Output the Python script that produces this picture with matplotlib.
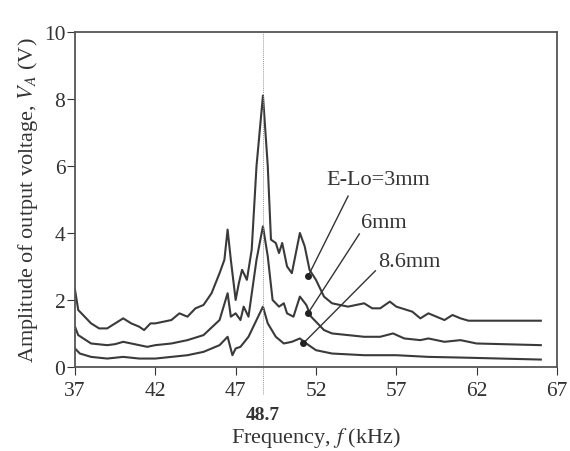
import matplotlib
matplotlib.use("Agg")
import matplotlib.pyplot as plt

plt.rcParams["font.family"] = ["Liberation Serif", "DejaVu Serif"]
plt.rcParams["mathtext.fontset"] = "stix"

# frequency (kHz) / amplitude (V)
f_3mm = [37.0, 37.2, 38.0, 38.5, 39.0, 39.5, 40.0, 40.5, 41.0, 41.3, 41.7, 42.0,
         43.0, 43.5, 44.0, 44.5, 45.0, 45.5, 46.0, 46.3, 46.5, 46.7, 47.0, 47.2,
         47.4, 47.7, 48.0, 48.3, 48.7, 49.0, 49.2, 49.5, 49.7, 49.9, 50.2, 50.5,
         51.0, 51.3, 51.6, 52.0, 52.5, 53.0, 54.0, 55.0, 55.5, 56.0, 56.6, 57.0,
         58.0, 58.5, 59.0, 59.5, 60.0, 60.5, 61.0, 61.5, 66.0]
v_3mm = [2.3, 1.7, 1.3, 1.15, 1.15, 1.3, 1.45, 1.3, 1.2, 1.1, 1.3, 1.3,
         1.4, 1.6, 1.5, 1.75, 1.85, 2.2, 2.8, 3.2, 4.1, 3.2, 2.0, 2.5,
         2.9, 2.6, 3.5, 6.0, 8.1, 6.0, 3.8, 3.7, 3.4, 3.7, 3.0, 2.8,
         4.0, 3.6, 2.9, 2.6, 2.1, 1.9, 1.8, 1.9, 1.75, 1.75, 1.95, 1.8,
         1.65, 1.45, 1.6, 1.5, 1.4, 1.55, 1.45, 1.38, 1.38]

f_6mm = [37.0, 37.2, 38.0, 39.0, 39.5, 40.0, 41.0, 41.5, 42.0, 43.0, 44.0, 45.0,
         46.0, 46.5, 46.7, 47.0, 47.3, 47.5, 47.8, 48.3, 48.7, 49.0, 49.3, 49.7,
         50.0, 50.2, 50.6, 51.0, 51.4, 51.7, 52.5, 53.0, 54.0, 55.0, 56.0, 56.8,
         57.5, 58.5, 59.0, 60.0, 61.0, 62.0, 66.0]
v_6mm = [1.2, 0.95, 0.7, 0.65, 0.68, 0.75, 0.65, 0.6, 0.65, 0.7, 0.8, 0.95,
         1.4, 2.2, 1.5, 1.6, 1.4, 1.8, 1.5, 3.2, 4.2, 3.3, 2.0, 1.8,
         1.9, 1.6, 1.5, 2.1, 1.85, 1.5, 1.1, 1.0, 0.95, 0.9, 0.9, 1.0,
         0.85, 0.8, 0.85, 0.75, 0.8, 0.7, 0.65]

f_86mm = [37.0, 37.3, 38.0, 39.0, 40.0, 41.0, 42.0, 43.0, 44.0, 45.0, 46.0, 46.5,
          46.8, 47.0, 47.3, 47.8, 48.3, 48.7, 49.0, 49.5, 50.0, 50.5, 51.0, 51.4,
          52.0, 53.0, 55.0, 57.0, 59.0, 61.0, 66.0]
v_86mm = [0.55, 0.4, 0.3, 0.25, 0.3, 0.25, 0.25, 0.3, 0.35, 0.45, 0.65, 0.9,
          0.35, 0.55, 0.6, 0.9, 1.4, 1.8, 1.3, 0.9, 0.7, 0.75, 0.85, 0.7,
          0.5, 0.4, 0.35, 0.35, 0.3, 0.28, 0.22]

x_ticks = [37, 42, 47, 52, 57, 62, 67]
y_ticks = [0, 2, 4, 6, 8, 10]
f_res = 48.7

# label text, text position, pointer start, pointer end (dot)
labels = ["E-Lo=3mm", "6mm", "8.6mm"]
label_xy = [(55.85, 5.6), (56.2, 4.3), (57.8, 3.15)]
ptr_from = [(54.0, 5.1), (54.7, 3.97), (55.7, 2.87)]
ptr_to = [(51.5, 2.7), (51.5, 1.6), (51.2, 0.7)]

fig = plt.figure(figsize=(5.7, 4.52), dpi=100)
ax = fig.add_axes([0.1316, 0.186, 0.8454, 0.741])

line_color = "#3a3a3a"
for fx, vy in [(f_3mm, v_3mm), (f_6mm, v_6mm), (f_86mm, v_86mm)]:
    ax.plot(fx, vy, color=line_color, lw=1.5)

# resonance marker, runs a little below the axis like in the original
ax.plot([f_res, f_res], [-0.8, 10], color="#999999", lw=0.7,
        ls=(0, (1, 1)), clip_on=False)

for txt, (tx, ty), (x0, y0), (x1, y1) in zip(labels, label_xy, ptr_from, ptr_to):
    ax.text(tx, ty, txt, fontsize=16, ha="center", va="center", color="#333333")
    ax.plot([x0, x1], [y0, y1], color="#333333", lw=1.0)
    ax.plot([x1], [y1], "o", color="#222222", ms=4)

ax.set_xlim(37, 67)
ax.set_ylim(0, 10)
ax.set_xticks(x_ticks)
ax.set_yticks(y_ticks)
ax.tick_params(labelsize=15.5, colors="#333333", length=6)
ax.tick_params(axis="x", pad=4)
ax.tick_params(axis="y", pad=1)
for s in ax.spines.values():
    s.set_color("#555555")
    s.set_linewidth(1.3)

ax.text(f_res, -1.42, "48.7", fontsize=14, fontweight="bold", ha="center",
        va="center", color="#333333")
ax.set_xlabel("Frequency, $f$ (kHz)", fontsize=16, labelpad=18, color="#333333")
ax.set_ylabel("Amplitude of output voltage, $V_A$ (V)", fontsize=16,
              labelpad=3, color="#333333")

fig.savefig("out.png", dpi=100)
